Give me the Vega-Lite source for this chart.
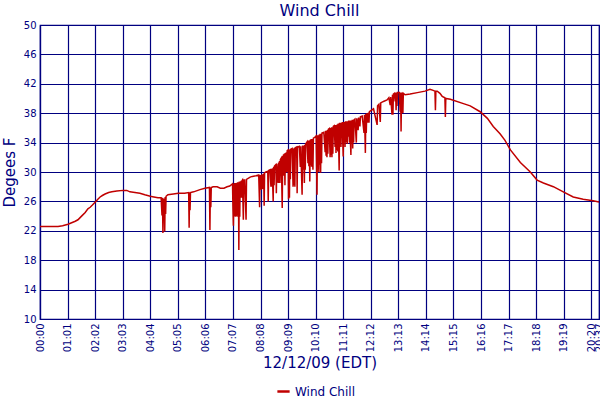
{
  "$schema": "https://vega.github.io/schema/vega-lite/v6.json",
  "autosize": "none",
  "width": 559,
  "height": 294,
  "padding": {"left": 40, "top": 25, "right": 1, "bottom": 81},
  "background": "white",
  "config": {
    "font": "DejaVu Sans",
    "view": {"stroke": "#000080", "strokeWidth": 1.2},
    "axis": {
      "gridColor": "#000080",
      "gridWidth": 1.2,
      "gridOpacity": 1,
      "domainColor": "#000080",
      "domainWidth": 1.2,
      "ticks": false,
      "labelColor": "#000080",
      "labelFont": "DejaVu Sans",
      "labelFontSize": 10,
      "titleColor": "#000080",
      "titleFont": "DejaVu Sans",
      "titleFontSize": 15,
      "titleFontWeight": "normal"
    }
  },
  "title": {
    "text": "Wind Chill",
    "color": "#000080",
    "font": "DejaVu Sans",
    "fontSize": 16,
    "fontWeight": "normal",
    "anchor": "middle",
    "offset": 1
  },
  "data": {
    "values": [
      {"m": 0, "v": 22.6}, {"m": 20, "v": 22.6}, {"m": 40, "v": 22.6}, {"m": 50, "v": 22.7},
      {"m": 62, "v": 22.9}, {"m": 70, "v": 23.1}, {"m": 78, "v": 23.3}, {"m": 84, "v": 23.5},
      {"m": 92, "v": 24.0}, {"m": 100, "v": 24.5}, {"m": 106, "v": 25.0}, {"m": 111, "v": 25.2},
      {"m": 116, "v": 25.5}, {"m": 122, "v": 25.9}, {"m": 128, "v": 26.3}, {"m": 133, "v": 26.6},
      {"m": 138, "v": 26.8}, {"m": 144, "v": 27.0}, {"m": 152, "v": 27.2}, {"m": 159, "v": 27.3},
      {"m": 170, "v": 27.4}, {"m": 184, "v": 27.5}, {"m": 192, "v": 27.5}, {"m": 199, "v": 27.3},
      {"m": 210, "v": 27.2}, {"m": 221, "v": 27.1}, {"m": 232, "v": 26.9}, {"m": 244, "v": 26.7},
      {"m": 252, "v": 26.6}, {"m": 261, "v": 26.5}, {"m": 268, "v": 26.5},
      {"m": 270, "v": 24.1}, {"m": 271, "v": 26.5}, {"m": 272, "v": 21.7}, {"m": 273, "v": 26.4},
      {"m": 274, "v": 24.2}, {"m": 275, "v": 26.4}, {"m": 276, "v": 21.9}, {"m": 277, "v": 26.6},
      {"m": 278, "v": 24.3}, {"m": 279, "v": 26.7},
      {"m": 283, "v": 26.9}, {"m": 295, "v": 27.0}, {"m": 306, "v": 27.1}, {"m": 320, "v": 27.1},
      {"m": 329, "v": 27.2}, {"m": 330, "v": 22.4}, {"m": 331, "v": 27.2}, {"m": 332, "v": 24.8},
      {"m": 333, "v": 27.2}, {"m": 340, "v": 27.3}, {"m": 354, "v": 27.6}, {"m": 365, "v": 27.8},
      {"m": 375, "v": 27.9}, {"m": 376, "v": 22.1}, {"m": 377, "v": 27.9}, {"m": 378, "v": 25.2},
      {"m": 379, "v": 27.9}, {"m": 383, "v": 28.0}, {"m": 392, "v": 28.0}, {"m": 399, "v": 27.8},
      {"m": 407, "v": 27.8}, {"m": 414, "v": 28.0}, {"m": 420, "v": 28.1}, {"m": 424, "v": 28.3},
      {"m": 426, "v": 28.4}, {"m": 427, "v": 25.0}, {"m": 428, "v": 22.7}, {"m": 429, "v": 28.4},
      {"m": 430, "v": 24.0}, {"m": 431, "v": 28.5}, {"m": 432, "v": 23.9}, {"m": 433, "v": 28.5},
      {"m": 434, "v": 24.0}, {"m": 435, "v": 28.5}, {"m": 436, "v": 23.9}, {"m": 437, "v": 28.6},
      {"m": 438, "v": 24.2}, {"m": 439, "v": 28.6}, {"m": 440, "v": 19.4}, {"m": 441, "v": 28.7},
      {"m": 442, "v": 23.9}, {"m": 443, "v": 28.7}, {"m": 444, "v": 26.5}, {"m": 445, "v": 28.8},
      {"m": 446, "v": 26.5}, {"m": 447, "v": 28.8}, {"m": 448, "v": 28.9}, {"m": 450, "v": 23.5},
      {"m": 451, "v": 28.9}, {"m": 453, "v": 28.9}, {"m": 456, "v": 23.5}, {"m": 457, "v": 29.0},
      {"m": 465, "v": 29.3}, {"m": 470, "v": 29.4}, {"m": 478, "v": 29.5}, {"m": 484, "v": 29.6},
      {"m": 486, "v": 25.2}, {"m": 487, "v": 29.6}, {"m": 488, "v": 27.6}, {"m": 489, "v": 29.6},
      {"m": 490, "v": 27.6}, {"m": 491, "v": 29.7}, {"m": 492, "v": 27.7}, {"m": 493, "v": 29.7},
      {"m": 494, "v": 27.7}, {"m": 495, "v": 29.8}, {"m": 496, "v": 25.4}, {"m": 497, "v": 29.9},
      {"m": 500, "v": 30.0}, {"m": 504, "v": 30.1}, {"m": 505, "v": 26.0}, {"m": 506, "v": 30.2},
      {"m": 509, "v": 30.3}, {"m": 511, "v": 28.0}, {"m": 512, "v": 30.4}, {"m": 513, "v": 28.0},
      {"m": 514, "v": 30.5}, {"m": 515, "v": 28.1}, {"m": 516, "v": 26.0}, {"m": 517, "v": 30.7},
      {"m": 518, "v": 28.2}, {"m": 519, "v": 30.8}, {"m": 522, "v": 31.0}, {"m": 523, "v": 27.1},
      {"m": 524, "v": 31.1}, {"m": 527, "v": 28.5}, {"m": 528, "v": 31.3}, {"m": 529, "v": 28.5},
      {"m": 530, "v": 31.5}, {"m": 531, "v": 28.5}, {"m": 532, "v": 31.7}, {"m": 534, "v": 31.9},
      {"m": 536, "v": 25.1}, {"m": 537, "v": 32.2}, {"m": 538, "v": 29.9}, {"m": 539, "v": 32.4},
      {"m": 540, "v": 29.5}, {"m": 541, "v": 32.5}, {"m": 542, "v": 28.2}, {"m": 543, "v": 32.6},
      {"m": 544, "v": 29.9}, {"m": 545, "v": 32.7}, {"m": 546, "v": 30.0}, {"m": 547, "v": 32.9},
      {"m": 549, "v": 33.0}, {"m": 550, "v": 26.3}, {"m": 551, "v": 33.0}, {"m": 552, "v": 26.5},
      {"m": 553, "v": 33.1}, {"m": 554, "v": 29.0}, {"m": 555, "v": 33.1}, {"m": 558, "v": 33.2},
      {"m": 560, "v": 28.0}, {"m": 561, "v": 33.2}, {"m": 562, "v": 28.2}, {"m": 563, "v": 33.3},
      {"m": 564, "v": 28.0}, {"m": 565, "v": 33.3}, {"m": 568, "v": 33.4}, {"m": 569, "v": 27.1},
      {"m": 570, "v": 33.4}, {"m": 574, "v": 33.5}, {"m": 576, "v": 30.7}, {"m": 577, "v": 33.5},
      {"m": 580, "v": 26.9}, {"m": 581, "v": 33.6}, {"m": 582, "v": 30.3}, {"m": 583, "v": 33.6},
      {"m": 585, "v": 28.5}, {"m": 586, "v": 33.7}, {"m": 587, "v": 30.3}, {"m": 588, "v": 33.8},
      {"m": 591, "v": 34.1}, {"m": 593, "v": 31.2}, {"m": 594, "v": 34.3}, {"m": 595, "v": 30.8},
      {"m": 596, "v": 34.3}, {"m": 597, "v": 28.7}, {"m": 598, "v": 34.4}, {"m": 599, "v": 31.0},
      {"m": 600, "v": 34.5}, {"m": 601, "v": 30.7}, {"m": 602, "v": 34.5}, {"m": 604, "v": 30.3},
      {"m": 605, "v": 34.6}, {"m": 608, "v": 34.7}, {"m": 611, "v": 34.9}, {"m": 613, "v": 26.9},
      {"m": 614, "v": 35.0}, {"m": 615, "v": 31.2}, {"m": 616, "v": 35.0}, {"m": 617, "v": 30.0},
      {"m": 618, "v": 35.1}, {"m": 619, "v": 31.0}, {"m": 620, "v": 35.2}, {"m": 621, "v": 29.9},
      {"m": 622, "v": 35.2}, {"m": 623, "v": 31.2}, {"m": 624, "v": 35.3}, {"m": 628, "v": 35.4},
      {"m": 631, "v": 32.7}, {"m": 632, "v": 35.6}, {"m": 633, "v": 32.2}, {"m": 634, "v": 35.6},
      {"m": 635, "v": 32.0}, {"m": 636, "v": 35.7}, {"m": 637, "v": 32.5}, {"m": 638, "v": 35.8},
      {"m": 640, "v": 35.9}, {"m": 642, "v": 32.0}, {"m": 643, "v": 36.0}, {"m": 644, "v": 32.3},
      {"m": 645, "v": 36.1}, {"m": 646, "v": 32.0}, {"m": 647, "v": 36.1}, {"m": 648, "v": 32.5},
      {"m": 649, "v": 36.2}, {"m": 651, "v": 36.3}, {"m": 653, "v": 33.4}, {"m": 654, "v": 36.4},
      {"m": 655, "v": 32.6}, {"m": 656, "v": 36.4}, {"m": 657, "v": 33.0}, {"m": 658, "v": 36.5},
      {"m": 659, "v": 32.8}, {"m": 660, "v": 36.6}, {"m": 662, "v": 30.2}, {"m": 663, "v": 36.7},
      {"m": 664, "v": 35.0}, {"m": 665, "v": 36.7}, {"m": 666, "v": 33.4}, {"m": 667, "v": 36.7},
      {"m": 668, "v": 35.0}, {"m": 669, "v": 36.8}, {"m": 670, "v": 34.0}, {"m": 671, "v": 32.1},
      {"m": 672, "v": 36.8}, {"m": 673, "v": 34.0}, {"m": 674, "v": 36.8}, {"m": 675, "v": 33.4},
      {"m": 676, "v": 36.9}, {"m": 677, "v": 34.0}, {"m": 678, "v": 36.9}, {"m": 680, "v": 33.8},
      {"m": 681, "v": 36.9}, {"m": 682, "v": 34.8}, {"m": 683, "v": 37.0}, {"m": 685, "v": 34.0},
      {"m": 686, "v": 37.0}, {"m": 687, "v": 34.0}, {"m": 688, "v": 32.3}, {"m": 689, "v": 37.0},
      {"m": 690, "v": 34.0}, {"m": 691, "v": 37.1}, {"m": 692, "v": 33.2}, {"m": 693, "v": 37.1},
      {"m": 694, "v": 34.0}, {"m": 695, "v": 37.1}, {"m": 697, "v": 37.2}, {"m": 700, "v": 34.0},
      {"m": 701, "v": 37.3}, {"m": 704, "v": 35.7}, {"m": 705, "v": 37.4}, {"m": 708, "v": 36.2},
      {"m": 709, "v": 37.5}, {"m": 713, "v": 37.6}, {"m": 717, "v": 35.3}, {"m": 718, "v": 37.8},
      {"m": 719, "v": 35.3}, {"m": 720, "v": 32.6}, {"m": 721, "v": 37.9}, {"m": 722, "v": 35.3},
      {"m": 723, "v": 38.0}, {"m": 724, "v": 36.7}, {"m": 725, "v": 38.0}, {"m": 726, "v": 36.7},
      {"m": 727, "v": 38.1}, {"m": 728, "v": 36.7}, {"m": 729, "v": 38.2}, {"m": 733, "v": 38.4},
      {"m": 738, "v": 38.6}, {"m": 746, "v": 36.4}, {"m": 747, "v": 39.0}, {"m": 750, "v": 39.2},
      {"m": 753, "v": 36.8}, {"m": 754, "v": 39.4}, {"m": 760, "v": 39.6}, {"m": 768, "v": 39.8},
      {"m": 772, "v": 40.1}, {"m": 775, "v": 39.1}, {"m": 776, "v": 40.2}, {"m": 779, "v": 37.8},
      {"m": 780, "v": 40.5}, {"m": 781, "v": 37.8}, {"m": 782, "v": 40.6}, {"m": 784, "v": 40.7},
      {"m": 786, "v": 39.6}, {"m": 787, "v": 40.8}, {"m": 788, "v": 38.4}, {"m": 789, "v": 40.8},
      {"m": 790, "v": 39.0}, {"m": 791, "v": 40.8}, {"m": 795, "v": 40.8}, {"m": 797, "v": 38.2},
      {"m": 798, "v": 40.8}, {"m": 799, "v": 35.5}, {"m": 800, "v": 40.8}, {"m": 801, "v": 38.0},
      {"m": 802, "v": 40.8}, {"m": 803, "v": 38.0}, {"m": 804, "v": 40.7}, {"m": 808, "v": 40.5},
      {"m": 819, "v": 40.6}, {"m": 835, "v": 40.8}, {"m": 852, "v": 41.0}, {"m": 863, "v": 41.25},
      {"m": 870, "v": 41.1}, {"m": 874, "v": 41.0}, {"m": 875, "v": 38.4}, {"m": 876, "v": 41.0},
      {"m": 879, "v": 41.0}, {"m": 885, "v": 40.7}, {"m": 890, "v": 40.3}, {"m": 896, "v": 40.1},
      {"m": 897, "v": 37.5}, {"m": 898, "v": 40.0}, {"m": 908, "v": 39.9}, {"m": 937, "v": 39.3},
      {"m": 952, "v": 39.0}, {"m": 974, "v": 38.2}, {"m": 990, "v": 37.3}, {"m": 1003, "v": 36.2},
      {"m": 1018, "v": 35.2}, {"m": 1029, "v": 34.3}, {"m": 1041, "v": 33.0}, {"m": 1063, "v": 31.3},
      {"m": 1085, "v": 30.0}, {"m": 1100, "v": 28.9}, {"m": 1114, "v": 28.5}, {"m": 1136, "v": 28.0},
      {"m": 1158, "v": 27.3}, {"m": 1180, "v": 26.6}, {"m": 1202, "v": 26.3}, {"m": 1224, "v": 26.1},
      {"m": 1237, "v": 25.9}
    ]
  },
  "mark": {"type": "line", "strokeWidth": 1.5, "interpolate": "linear", "clip": true},
  "encoding": {
    "x": {
      "field": "m",
      "type": "quantitative",
      "title": "12/12/09 (EDT)",
      "scale": {"domain": [0, 1237], "nice": false, "zero": false},
      "axis": {
        "values": [0, 61, 122, 183, 244, 305, 366, 427, 488, 549, 610, 671, 732, 793, 854, 915, 976, 1037, 1098, 1159, 1220, 1237],
        "labelExpr": "utcFormat(datum.value * 60000, '%H:%M')",
        "labelAngle": 270,
        "labelAlign": "right",
        "labelBaseline": "middle",
        "labelOverlap": false,
        "labelFlush": false,
        "labelBound": false,
        "labelPadding": 4,
        "titlePadding": 4
      }
    },
    "y": {
      "field": "v",
      "type": "quantitative",
      "title": "Degees F",
      "scale": {"domain": [10, 50], "nice": false, "zero": false},
      "axis": {
        "values": [10, 14, 18, 22, 26, 30, 34, 38, 42, 46, 50],
        "labelPadding": 4,
        "titlePadding": 6
      }
    },
    "order": {"field": "m", "type": "quantitative"},
    "color": {
      "datum": "Wind Chill",
      "type": "nominal",
      "scale": {"range": ["#c00000"]},
      "legend": {
        "title": null,
        "orient": "none",
        "legendX": 236,
        "legendY": 359,
        "symbolType": "stroke",
        "symbolSize": 150,
        "symbolStrokeWidth": 2.5,
        "labelColor": "#000080",
        "labelFont": "DejaVu Sans",
        "labelFontSize": 12
      }
    }
  }
}
